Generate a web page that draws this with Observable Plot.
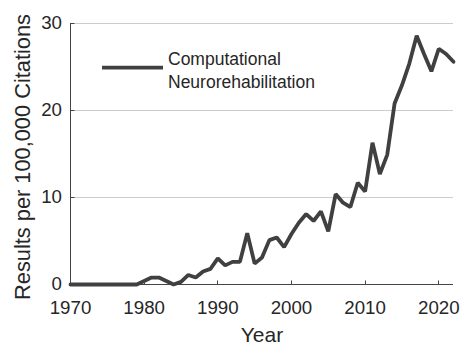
<!DOCTYPE html>
<html>
<head>
<meta charset="utf-8">
<script src="https://cdn.jsdelivr.net/npm/d3@7"></script>
<script src="https://cdn.jsdelivr.net/npm/@observablehq/plot@0.6"></script>
<style>
  html, body { margin: 0; padding: 0; background: #fff; }
  #chart svg { display: block; }
</style>
</head>
<body>
<div id="chart"></div>
<script>
const years = [1970,1971,1972,1973,1974,1975,1976,1977,1978,1979,
  1980,1981,1982,1983,1984,1985,1986,1987,1988,1989,
  1990,1991,1992,1993,1994,1995,1996,1997,1998,1999,
  2000,2001,2002,2003,2004,2005,2006,2007,2008,2009,
  2010,2011,2012,2013,2014,2015,2016,2017,2018,2019,
  2020,2021,2022];
const values = [0,0,0,0,0,0,0,0,0,0,
  0.4,0.8,0.8,0.4,0,0.3,1.1,0.8,1.5,1.8,
  3.0,2.2,2.6,2.6,5.9,2.4,3.1,5.1,5.4,4.3,
  5.8,7.1,8.1,7.3,8.4,6.1,10.4,9.4,8.9,11.7,
  10.7,16.3,12.7,14.9,20.8,22.9,25.4,28.6,26.5,24.5,
  27.1,26.5,25.6];
const xTicks = [1970,1980,1990,2000,2010,2020];
const yTicks = [0,10,20,30];
const gridTicks = [10,20,30];
const seriesName = ["Computational", "Neurorehabilitation"];
const xLabel = "Year";
const yLabel = "Results per 100,000 Citations";

const data = years.map((y, i) => ({year: y, value: values[i]}));
const font = "'Liberation Sans', Arial, Helvetica, sans-serif";
const textColor = "#262626";
const lineColor = "#404040";
const axisColor = "#444";
const gridColor = "#cccccc";

const chart = Plot.plot({
  width: 460,
  height: 346,
  marginLeft: 70,
  marginRight: 7,
  marginTop: 23,
  marginBottom: 62,
  style: {fontFamily: font, color: textColor, background: "#fff", overflow: "visible"},
  x: {domain: [1970, 2022]},
  y: {domain: [0, 30]},
  marks: [
    Plot.ruleY(gridTicks, {stroke: gridColor, strokeWidth: 1}),
    Plot.axisX(xTicks, {tickSize: 0, tickPadding: 16, tickFormat: d => String(d), fontSize: 18.7,
      fill: textColor, label: null}),
    Plot.axisY(yTicks, {tickSize: 0, tickPadding: 8.5, fontSize: 18.7, fill: textColor, label: null}),
    Plot.ruleY([0], {stroke: axisColor, strokeWidth: 1}),
    Plot.ruleX([1970], {stroke: axisColor, strokeWidth: 1}),
    Plot.line(data, {x: "year", y: "value", stroke: lineColor, strokeWidth: 3.8, strokeLinejoin: "miter"})
  ]
});

const svg = d3.select(chart);
const sx = chart.scale("x"), sy = chart.scale("y");
const y0 = sy.apply(0), x0 = sx.apply(1970);
// inward tick marks (positions from Plot's scales)
const tk = svg.append("g").attr("stroke", axisColor).attr("stroke-width", 1)
  .attr("transform", "translate(0.5,0.5)");
xTicks.slice(1).forEach(t => {
  const x = Math.round(sx.apply(t));
  tk.append("line").attr("x1", x).attr("x2", x).attr("y1", y0).attr("y2", y0 - 4);
});
yTicks.slice(1).forEach(t => {
  const y = Math.round(sy.apply(t));
  tk.append("line").attr("x1", x0).attr("x2", x0 + 4).attr("y1", y).attr("y2", y);
});
// axis titles
svg.append("text")
  .attr("x", 262).attr("y", 341.5)
  .attr("text-anchor", "middle")
  .attr("font-size", 21)
  .attr("fill", textColor)
  .text(xLabel);
svg.append("text")
  .attr("transform", "translate(30,157) rotate(-90)")
  .attr("text-anchor", "middle")
  .attr("font-size", 21.8)
  .attr("fill", textColor)
  .text(yLabel);
// legend
const lg = svg.append("g").attr("text-anchor", "start");
lg.append("line")
  .attr("x1", 102).attr("x2", 163).attr("y1", 67.7).attr("y2", 67.7)
  .attr("stroke", lineColor).attr("stroke-width", 3.8);
lg.append("text")
  .attr("x", 168).attr("y", 64.5)
  .attr("font-size", 17.5).attr("fill", textColor)
  .text(seriesName[0]);
lg.append("text")
  .attr("x", 168).attr("y", 88)
  .attr("font-size", 17.5).attr("fill", textColor)
  .text(seriesName[1]);

document.getElementById("chart").appendChild(chart);
</script>
</body>
</html>
